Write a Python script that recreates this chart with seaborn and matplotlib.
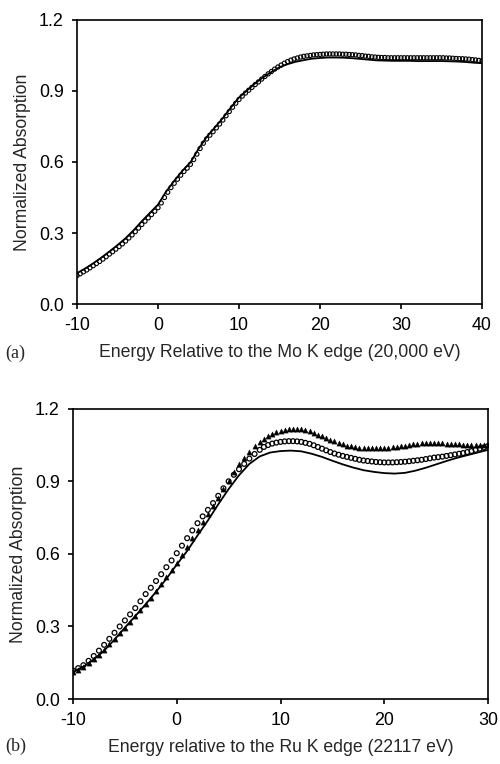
import matplotlib
matplotlib.use('Agg')
import matplotlib.pyplot as plt
import numpy as np
import pandas as pd
import seaborn as sns

# ---- panel (a): Mo K edge ----
mo_energy_pts = np.round(np.arange(-10, 40.01, 0.4), 1)
mo_circles = [
    0.120, 0.128, 0.136, 0.144, 0.153, 0.162, 0.171, 0.180, 0.190, 0.200,
    0.211, 0.221, 0.232, 0.243, 0.254, 0.266, 0.279, 0.292, 0.306, 0.321,
    0.336, 0.350, 0.364, 0.378, 0.392, 0.407, 0.427, 0.450, 0.472, 0.492,
    0.510, 0.527, 0.544, 0.560, 0.574, 0.590, 0.610, 0.633, 0.657, 0.679,
    0.697, 0.713, 0.728, 0.744, 0.760, 0.777, 0.795, 0.813, 0.831, 0.848,
    0.864, 0.878, 0.891, 0.903, 0.915, 0.927, 0.938, 0.950, 0.961, 0.972,
    0.982, 0.992, 1.001, 1.009, 1.017, 1.024, 1.030, 1.035, 1.039, 1.043,
    1.046, 1.048, 1.050, 1.052, 1.053, 1.054, 1.055, 1.056, 1.056, 1.056,
    1.056, 1.056, 1.055, 1.055, 1.054, 1.053, 1.052, 1.050, 1.049, 1.047,
    1.046, 1.044, 1.043, 1.042, 1.041, 1.041, 1.040, 1.040, 1.040, 1.040,
    1.040, 1.040, 1.040, 1.040, 1.040, 1.040, 1.040, 1.040, 1.040, 1.040,
    1.040, 1.040, 1.040, 1.040, 1.039, 1.039, 1.038, 1.037, 1.036, 1.036,
    1.035, 1.034, 1.032, 1.031, 1.029, 1.027,
]
mo_energy_line = np.arange(-10, 41, 1)
mo_line = [
    0.131, 0.150, 0.172, 0.196, 0.222, 0.249, 0.278, 0.312, 0.350, 0.385,
    0.420, 0.475, 0.520, 0.562, 0.598, 0.655, 0.705, 0.745, 0.785, 0.830,
    0.872, 0.902, 0.932, 0.958, 0.980, 1.000, 1.013, 1.023, 1.030, 1.036,
    1.039, 1.041, 1.041, 1.040, 1.038, 1.035, 1.032, 1.029, 1.028, 1.027,
    1.027, 1.027, 1.026, 1.026, 1.026, 1.026, 1.025, 1.024, 1.022, 1.019,
    1.017,
]

# ---- panel (b): Ru K edge ----
ru_energy_pts = np.round(np.concatenate([np.arange(-10, 8.01, 0.5),
                                         np.arange(8.4, 30.01, 0.4)]), 1)
ru_circles = [
    0.118, 0.128, 0.140, 0.158, 0.178, 0.200, 0.224, 0.249, 0.274, 0.300,
    0.325, 0.350, 0.376, 0.404, 0.434, 0.460, 0.488, 0.516, 0.545, 0.573,
    0.603, 0.634, 0.665, 0.697, 0.727, 0.755, 0.782, 0.810, 0.840, 0.871,
    0.900, 0.927, 0.950, 0.972, 0.994, 1.013, 1.030,
    1.042, 1.050, 1.056, 1.060, 1.063, 1.065, 1.066, 1.066, 1.065, 1.063,
    1.059, 1.055, 1.049, 1.042, 1.035, 1.028, 1.021, 1.015, 1.010, 1.005,
    1.001, 0.997, 0.993, 0.989, 0.986, 0.984, 0.982, 0.980, 0.979, 0.978,
    0.978, 0.978, 0.979, 0.980, 0.981, 0.983, 0.985, 0.987, 0.989, 0.992,
    0.995, 0.998, 1.000, 1.002, 1.005, 1.008, 1.011, 1.014, 1.017, 1.021,
    1.025, 1.030, 1.035, 1.040, 1.046,
]
ru_triangles = [
    0.110, 0.121, 0.134, 0.150, 0.166, 0.184, 0.204, 0.226, 0.248, 0.271,
    0.294, 0.318, 0.342, 0.367, 0.392, 0.418, 0.445, 0.474, 0.503, 0.533,
    0.564, 0.596, 0.630, 0.664, 0.698, 0.732, 0.765, 0.798, 0.832, 0.867,
    0.902, 0.937, 0.970, 0.998, 1.023, 1.045, 1.063,
    1.076, 1.087, 1.096, 1.103, 1.109, 1.113, 1.116, 1.117, 1.117, 1.115,
    1.111, 1.106, 1.100, 1.093, 1.086, 1.079, 1.072, 1.065, 1.059, 1.053,
    1.048, 1.044, 1.041, 1.039, 1.037, 1.036, 1.036, 1.036, 1.036, 1.037,
    1.038, 1.040, 1.042, 1.045, 1.048, 1.050, 1.053, 1.055, 1.057, 1.058,
    1.058, 1.058, 1.058, 1.057, 1.056, 1.055, 1.054, 1.053, 1.052, 1.051,
    1.051, 1.050, 1.050, 1.051, 1.052,
]
ru_energy_line = np.arange(-10, 31, 1)
ru_line = [
    0.112, 0.134, 0.164, 0.200, 0.246, 0.295, 0.343, 0.392, 0.443, 0.497,
    0.556, 0.612, 0.676, 0.738, 0.805, 0.868, 0.925, 0.972, 1.003, 1.019,
    1.025, 1.027, 1.024, 1.014, 1.001, 0.985, 0.970, 0.957, 0.946, 0.939,
    0.934, 0.932, 0.935, 0.944, 0.956, 0.970, 0.984, 0.997, 1.008, 1.019,
    1.030,
]

y_ticks = [0.0, 0.3, 0.6, 0.9, 1.2]

sns.set_style('ticks')
plt.rcParams['font.family'] = ['Liberation Sans', 'DejaVu Sans']
plt.rcParams['font.size'] = 12.7
plt.rcParams['axes.unicode_minus'] = False
plt.rcParams['axes.linewidth'] = 1.2
plt.rcParams['xtick.major.width'] = 1.2
plt.rcParams['ytick.major.width'] = 1.2
plt.rcParams['xtick.major.size'] = 3.5
plt.rcParams['ytick.major.size'] = 3.5

fig = plt.figure(figsize=(5.0, 7.64), dpi=100)
ax_a = fig.add_axes([0.154, 0.602, 0.81, 0.372])
ax_b = fig.add_axes([0.146, 0.085, 0.830, 0.380])


def style_axis(ax, xmax, xlabel):
    ax.set_xlim(-10, xmax)
    ax.set_ylim(0, 1.2)
    ax.set_xticks(np.arange(-10, xmax + 1, 10))
    ax.set_yticks(y_ticks)
    ax.set_yticklabels([f'{v:.1f}' for v in y_ticks])
    ax.set_xlabel(xlabel, fontsize=12.7, labelpad=7)
    ax.set_ylabel('Normalized Absorption', fontsize=12.7, labelpad=6)
    ax.tick_params(axis='both', direction='out', labelsize=12.9, colors='black', pad=6)
    for sp in ax.spines.values():
        sp.set_color('black')
        sp.set_visible(True)


# panel (a)
sns.lineplot(x=mo_energy_line, y=mo_line, ax=ax_a, color='black', linewidth=1.3)
sns.scatterplot(x=mo_energy_pts, y=mo_circles, ax=ax_a, marker='o', s=9,
                facecolor='none', edgecolor='black', linewidth=0.8, zorder=3)
style_axis(ax_a, 40, 'Energy Relative to the Mo K edge (20,000 eV)')

# panel (b)
sns.lineplot(x=ru_energy_line, y=ru_line, ax=ax_b, color='black', linewidth=1.3)
sns.scatterplot(x=ru_energy_pts, y=ru_circles, ax=ax_b, marker='o', s=12,
                facecolor='none', edgecolor='black', linewidth=0.9, zorder=3)
sns.scatterplot(x=ru_energy_pts, y=ru_triangles, ax=ax_b, marker='^', s=14,
                color='black', edgecolor='black', linewidth=0.3, zorder=3)
style_axis(ax_b, 30, 'Energy relative to the Ru K edge (22117 eV)')

fig.text(0.010, 1 - 353 / 764, '(a)', family=['Liberation Serif', 'DejaVu Serif'],
         fontsize=13, va='center', ha='left')
fig.text(0.010, 1 - 746 / 764, '(b)', family=['Liberation Serif', 'DejaVu Serif'],
         fontsize=13, va='center', ha='left')

fig.savefig('out.png', dpi=100)
